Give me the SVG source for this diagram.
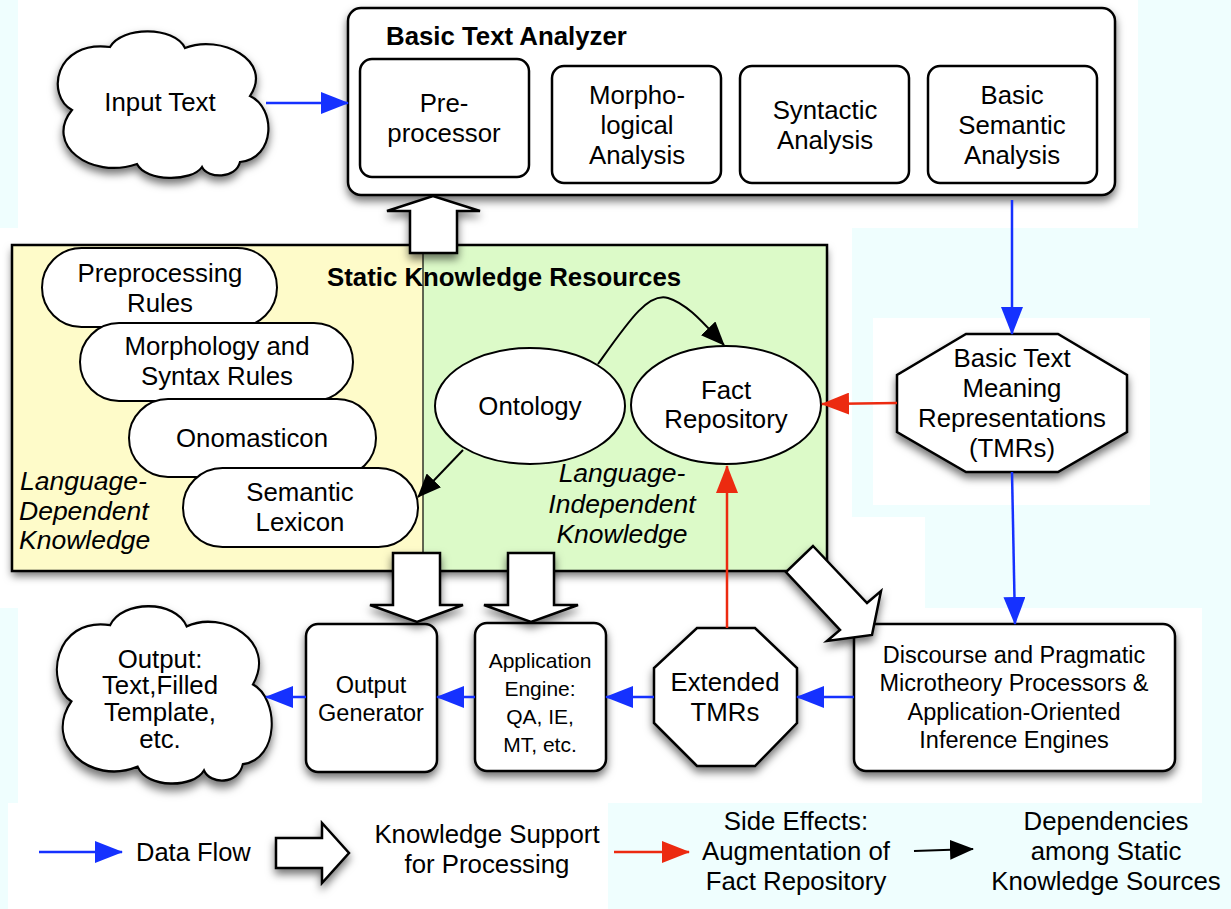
<svg xmlns="http://www.w3.org/2000/svg" width="1231" height="909" viewBox="0 0 1231 909">
<style>
text{font-family:"Liberation Sans",Arial,Helvetica,sans-serif;fill:#000}
.t{font-size:25.8px;text-anchor:middle}
.b{font-weight:bold;font-size:25.8px}
.it{font-style:italic;font-size:26.5px}
.lg{font-size:25.8px;text-anchor:middle}
.node{fill:#fff;stroke:#000;stroke-width:2.5}
.pill{fill:#fff;stroke:#000;stroke-width:2}
.blue{stroke:#1531ff;stroke-width:2.5;fill:none}
.red{stroke:#ec2a10;stroke-width:2.5;fill:none}
.blk{stroke:#000;stroke-width:2;fill:none}
.hollow{fill:#fff;stroke:#000;stroke-width:2.5;stroke-linejoin:miter}
</style>
<defs>
<filter id="sh" x="-20%" y="-20%" width="140%" height="150%">
<feDropShadow dx="0" dy="5" stdDeviation="4" flood-color="#000" flood-opacity="0.55"/>
</filter>
<marker id="ab" viewBox="0 0 28 22" refX="27" refY="11" markerWidth="28" markerHeight="22" markerUnits="userSpaceOnUse" orient="auto">
<path d="M0,0 L28,11 L0,22 Z" fill="#1531ff"/>
</marker>
<marker id="ar" viewBox="0 0 28 22" refX="27" refY="11" markerWidth="28" markerHeight="22" markerUnits="userSpaceOnUse" orient="auto">
<path d="M0,0 L28,11 L0,22 Z" fill="#ec2a10"/>
</marker>
<marker id="ak" viewBox="0 0 24 20" refX="23" refY="10" markerWidth="24" markerHeight="20" markerUnits="userSpaceOnUse" orient="auto">
<path d="M0,0 L24,10 L0,20 Z" fill="#000"/>
</marker>
<path id="cloud" d="M20,78 C-6,64 2,8 58,15 C70,-6 122,-6 133,16 C168,2 222,28 198,64 C224,76 224,126 188,130 C184,147 156,147 150,135 C140,150 94,150 85,132 C38,148 -8,112 20,78 Z"/>
</defs>

<!-- background -->
<g id="background">
<rect x="0" y="0" width="1231" height="909" fill="#effefe"/>
<rect x="18" y="0" width="1120" height="228" fill="#fff"/>
<rect x="0" y="228" width="852" height="380" fill="#fff"/>
<rect x="873" y="318" width="277" height="187" fill="#fff"/>
<rect x="852" y="517" width="73" height="91" fill="#fff"/>
<rect x="18" y="608" width="1184" height="195" fill="#fff"/>
<rect x="8" y="803" width="600" height="106" fill="#fff"/>
</g>

<!-- Static Knowledge Resources container -->
<g id="static-knowledge">
<rect x="12" y="245" width="815" height="326" fill="#fefbc9" filter="url(#sh)"/>
<rect x="423" y="245" width="404" height="326" fill="#dcfac8"/>
<line x1="423" y1="245" x2="423" y2="571" stroke="#000" stroke-width="1.2"/>
<rect x="12" y="245" width="815" height="326" fill="none" stroke="#000" stroke-width="2.5"/>
<text class="b" x="327" y="286">Static Knowledge Resources</text>
<text class="it" x="20" y="490">Language-</text>
<text class="it" x="19" y="520">Dependent</text>
<text class="it" x="19" y="549">Knowledge</text>
<text class="it" x="622" y="482" text-anchor="middle">Language-</text>
<text class="it" x="622" y="513" text-anchor="middle">Independent</text>
<text class="it" x="622" y="543" text-anchor="middle">Knowledge</text>
</g>

<g id="preprocessing-rules">
<rect class="pill" x="42" y="248" width="235" height="79" rx="39.5"/>
<text class="t" x="160" y="282">Preprocessing</text>
<text class="t" x="160" y="312">Rules</text>
</g>
<g id="morphology-syntax-rules">
<rect class="pill" x="80" y="323" width="273" height="78" rx="39"/>
<text class="t" x="217" y="355">Morphology and</text>
<text class="t" x="217" y="385">Syntax Rules</text>
</g>
<g id="onomasticon">
<rect class="pill" x="129" y="399" width="247" height="78" rx="39"/>
<text class="t" x="252" y="447">Onomasticon</text>
</g>
<g id="semantic-lexicon">
<rect class="pill" x="183" y="468" width="235" height="79" rx="39.5"/>
<text class="t" x="300" y="501">Semantic</text>
<text class="t" x="300" y="531">Lexicon</text>
</g>
<g id="ontology">
<ellipse class="pill" cx="530" cy="406" rx="95" ry="58"/>
<text class="t" x="530" y="415">Ontology</text>
</g>
<g id="fact-repository">
<ellipse class="pill" cx="726" cy="405" rx="95" ry="59"/>
<text class="t" x="726" y="399">Fact</text>
<text class="t" x="726" y="428">Repository</text>
</g>

<!-- Input text cloud -->
<g id="input-text">
<use href="#cloud" transform="translate(52,32)" fill="#fff" stroke="#000" stroke-width="2.2" filter="url(#sh)"/>
<text class="t" x="160" y="111">Input Text</text>
</g>

<!-- Basic Text Analyzer -->
<g id="basic-text-analyzer">
<rect class="node" x="348" y="8" width="767" height="187" rx="13" filter="url(#sh)"/>
<text class="b" x="386" y="45">Basic Text Analyzer</text>
</g>
<g id="preprocessor">
<rect class="node" x="360" y="59" width="169" height="118" rx="12"/>
<text class="t" x="444" y="112">Pre-</text>
<text class="t" x="444" y="142">processor</text>
</g>
<g id="morphological-analysis">
<rect class="node" x="552" y="66" width="169" height="117" rx="12"/>
<text class="t" x="637" y="104">Morpho-</text>
<text class="t" x="637" y="134">logical</text>
<text class="t" x="637" y="164">Analysis</text>
</g>
<g id="syntactic-analysis">
<rect class="node" x="740" y="66" width="169" height="117" rx="12"/>
<text class="t" x="825" y="119">Syntactic</text>
<text class="t" x="825" y="149">Analysis</text>
</g>
<g id="basic-semantic-analysis">
<rect class="node" x="928" y="66" width="169" height="117" rx="12"/>
<text class="t" x="1012" y="104">Basic</text>
<text class="t" x="1012" y="134">Semantic</text>
<text class="t" x="1012" y="164">Analysis</text>
</g>

<!-- Basic TMRs -->
<g id="basic-tmrs">
<polygon class="node" points="966,334 1058,334 1127,375 1127,432 1058,472 966,472 897,432 897,375" filter="url(#sh)"/>
<text class="t" x="1012" y="367">Basic Text</text>
<text class="t" x="1012" y="397">Meaning</text>
<text class="t" x="1012" y="427">Representations</text>
<text class="t" x="1012" y="457">(TMRs)</text>
</g>

<!-- Discourse -->
<g id="discourse-processors">
<rect class="node" x="854" y="624" width="321" height="147" rx="12" filter="url(#sh)"/>
<text class="t" x="1014" y="663" style="font-size:23.5px">Discourse and Pragmatic</text>
<text class="t" x="1014" y="691" style="font-size:23.5px">Microtheory Processors &amp;</text>
<text class="t" x="1014" y="720" style="font-size:23.5px">Application-Oriented</text>
<text class="t" x="1014" y="748" style="font-size:23.5px">Inference Engines</text>
</g>

<!-- Extended TMRs -->
<g id="extended-tmrs">
<polygon class="node" points="697,628 755,628 797,668 797,723 755,766 697,766 654,723 654,668" filter="url(#sh)"/>
<text class="t" x="725" y="691">Extended</text>
<text class="t" x="725" y="721">TMRs</text>
</g>

<!-- Application Engine -->
<g id="application-engine">
<rect class="node" x="475" y="623" width="131" height="148" rx="12" filter="url(#sh)"/>
<text class="t" x="540" y="668" style="font-size:21px">Application</text>
<text class="t" x="540" y="696" style="font-size:21px">Engine:</text>
<text class="t" x="540" y="724" style="font-size:21px">QA, IE,</text>
<text class="t" x="540" y="752" style="font-size:21px">MT, etc.</text>
</g>

<!-- Output Generator -->
<g id="output-generator">
<rect class="node" x="306" y="624" width="131" height="148" rx="12" filter="url(#sh)"/>
<text class="t" x="371" y="693" style="font-size:23.5px">Output</text>
<text class="t" x="371" y="721" style="font-size:23.5px">Generator</text>
</g>

<!-- Output cloud -->
<g id="output">
<use href="#cloud" transform="translate(51,607) scale(1.02,1.21)" fill="#fff" stroke="#000" stroke-width="2" filter="url(#sh)"/>
<text class="t" x="160" y="668">Output:</text>
<text class="t" x="160" y="694">Text,Filled</text>
<text class="t" x="160" y="721">Template,</text>
<text class="t" x="160" y="748">etc.</text>
</g>

<!-- connectors -->
<g id="connectors">
<line class="blue" x1="266" y1="103" x2="348" y2="103" marker-end="url(#ab)"/>
<line class="blue" x1="1012" y1="200" x2="1012" y2="334" marker-end="url(#ab)"/>
<line class="blue" x1="1012" y1="472" x2="1015" y2="624" marker-end="url(#ab)"/>
<line class="blue" x1="854" y1="697" x2="797" y2="697" marker-end="url(#ab)"/>
<line class="blue" x1="654" y1="697" x2="606" y2="697" marker-end="url(#ab)"/>
<line class="blue" x1="475" y1="697" x2="437" y2="697" marker-end="url(#ab)"/>
<line class="blue" x1="306" y1="697" x2="266" y2="697" marker-end="url(#ab)"/>
<line class="red" x1="897" y1="403" x2="822" y2="404" marker-end="url(#ar)"/>
<line class="red" x1="727" y1="628" x2="727" y2="466" marker-end="url(#ar)"/>
<path class="blk" d="M598,364 C628,322 648,292 668,298 C688,304 705,325 724,345" marker-end="url(#ak)"/>
<line class="blk" x1="463" y1="450" x2="418" y2="497" marker-end="url(#ak)"/>
<polygon class="hollow" points="410,253 410,211 387,211 433,196 480,211 457,211 457,253" filter="url(#sh)"/>
<polygon class="hollow" points="393,553 440,553 440,605 463,605 417,622 370,605 393,605" filter="url(#sh)"/>
<polygon class="hollow" points="508,553 554,553 554,605 578,605 531,622 484,605 508,605" filter="url(#sh)"/>
<polygon class="hollow" points="813,546 867,603 881,591 872,635 827,641 840,630 786,572" filter="url(#sh)"/>
</g>

<!-- legend -->
<g id="legend">
<line class="blue" x1="39" y1="852" x2="122" y2="852" marker-end="url(#ab)"/>
<text x="136" y="861" style="font-size:25.5px">Data Flow</text>
<polygon class="hollow" points="276,838 322,838 322,823 349,853 322,883 322,868 276,868" filter="url(#sh)"/>
<text class="lg" x="487" y="843">Knowledge Support</text>
<text class="lg" x="487" y="873">for Processing</text>
<line class="red" x1="614" y1="852" x2="689" y2="852" marker-end="url(#ar)"/>
<text class="lg" x="796" y="830">Side Effects:</text>
<text class="lg" x="796" y="860">Augmentation of</text>
<text class="lg" x="796" y="890">Fact Repository</text>
<line class="blk" x1="914" y1="851" x2="973" y2="849" marker-end="url(#ak)"/>
<text class="lg" x="1106" y="830">Dependencies</text>
<text class="lg" x="1106" y="860">among Static</text>
<text class="lg" x="1106" y="890">Knowledge Sources</text>
</g>
</svg>
